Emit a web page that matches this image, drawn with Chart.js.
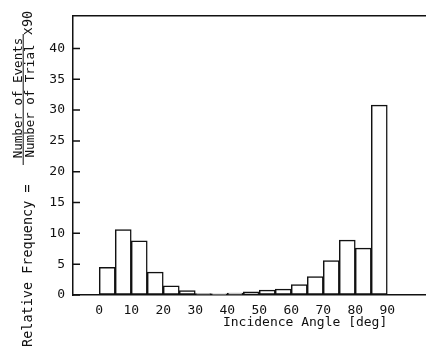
<!DOCTYPE html>
<html lang="en">
<head>
  <meta charset="utf-8">
  <title>Incidence Angle histogram</title>
  <style>
    html, body { margin: 0; padding: 0; background: #fff; }
    #wrap { position: relative; width: 426px; height: 350px; }
  </style>
</head>
<body>
  <div id="wrap"><canvas id="chart" width="426" height="350"></canvas></div>

  <script src="https://cdn.jsdelivr.net/npm/chart.js"></script>
  <script>
    // bins are 5 deg wide, value = left edge of the bin
    const binStart = [0, 5, 10, 15, 20, 25, 30, 35, 40, 45, 50, 55, 60, 65, 70, 75, 80, 85];
    const freq = [4.5, 10.6, 8.8, 3.7, 1.5, 0.7, 0.25, 0.2, 0.3, 0.5, 0.8, 0.95, 1.7, 3.0, 5.6, 8.9, 7.6, 30.8];
    const binWidth = 5;
    const xTicks = [0, 10, 20, 30, 40, 50, 60, 70, 80, 90];
    const yTicks = [0, 5, 10, 15, 20, 25, 30, 35, 40];

    const xTitle = "Incidence Angle [deg]";
    const yTitle = "Relative Frequency =";
    const yNum = "Number of Events";
    const yDen = "Number of Trial";
    const yFactor = "x90";

    const ink = "#111";
    const mono = "'DejaVu Sans Mono', monospace";

    // frame top line, inward y ticks and the axis titles
    const decor = {
      id: "decor",
      afterDatasetsDraw(chart) {
        const ctx = chart.ctx;
        const a = chart.chartArea;
        const xs = chart.scales.x;
        const ys = chart.scales.y;
        ctx.save();
        ctx.strokeStyle = ink;
        ctx.lineWidth = 1.5;
        ctx.beginPath();
        ctx.moveTo(a.left, a.top);
        ctx.lineTo(a.right, a.top);
        for (const v of yTicks) {
          const y = ys.getPixelForValue(v);
          ctx.moveTo(a.left, y);
          ctx.lineTo(a.left + 7, y);
        }
        ctx.stroke();

        ctx.fillStyle = ink;
        ctx.font = "13px " + mono;
        ctx.textAlign = "right";
        ctx.textBaseline = "middle";
        ctx.fillText(xTitle, xs.getPixelForValue(90), a.bottom + 28);

        // rotated y title with a fraction
        ctx.translate(27, 0);
        ctx.rotate(-Math.PI / 2);
        ctx.textBaseline = "alphabetic";
        ctx.font = "13.5px " + mono;
        ctx.textAlign = "left";
        ctx.fillText(yTitle, -347, 4.5);
        ctx.textAlign = "center";
        ctx.fillText(yFactor, -23, 4.5);
        ctx.font = "12.5px " + mono;
        ctx.fillText(yNum, -98, -5.5);
        ctx.fillText(yDen, -101, 6.8);
        ctx.lineWidth = 1;
        ctx.beginPath();
        ctx.moveTo(-165, -3.8);
        ctx.lineTo(-34, -3.8);
        ctx.stroke();
        ctx.restore();
      }
    };

    new Chart(document.getElementById("chart"), {
      type: "bar",
      data: {
        datasets: [{
          data: binStart.map((s, i) => ({ x: s + binWidth / 2, y: freq[i] })),
          backgroundColor: "#fff",
          borderColor: ink,
          borderWidth: 1.5,
          borderSkipped: false,
          barPercentage: 1,
          categoryPercentage: 1
        }]
      },
      options: {
        responsive: false,
        animation: false,
        devicePixelRatio: 1,
        layout: { padding: { top: 8, right: 0, left: 0, bottom: 0 } },
        plugins: { legend: { display: false }, tooltip: { enabled: false } },
        scales: {
          x: {
            type: "linear",
            offset: false,
            min: -8.2,
            max: 102.1,
            afterBuildTicks: (s) => { s.ticks = xTicks.map(v => ({ value: v })); },
            afterFit: (s) => { s.height = 55; },
            grid: { drawOnChartArea: false, drawTicks: false },
            border: { color: ink, width: 1.5 },
            ticks: { color: ink, padding: 8, maxRotation: 0, font: { family: mono, size: 13 } }
          },
          y: {
            min: 0,
            max: 45.3,
            afterBuildTicks: (s) => { s.ticks = yTicks.map(v => ({ value: v })); },
            afterFit: (s) => { s.width = 73; },
            grid: { drawOnChartArea: false, drawTicks: false },
            border: { color: ink, width: 1.5 },
            ticks: { color: ink, padding: 8, font: { family: mono, size: 13 } }
          }
        }
      },
      plugins: [decor]
    });
  </script>
</body>
</html>
